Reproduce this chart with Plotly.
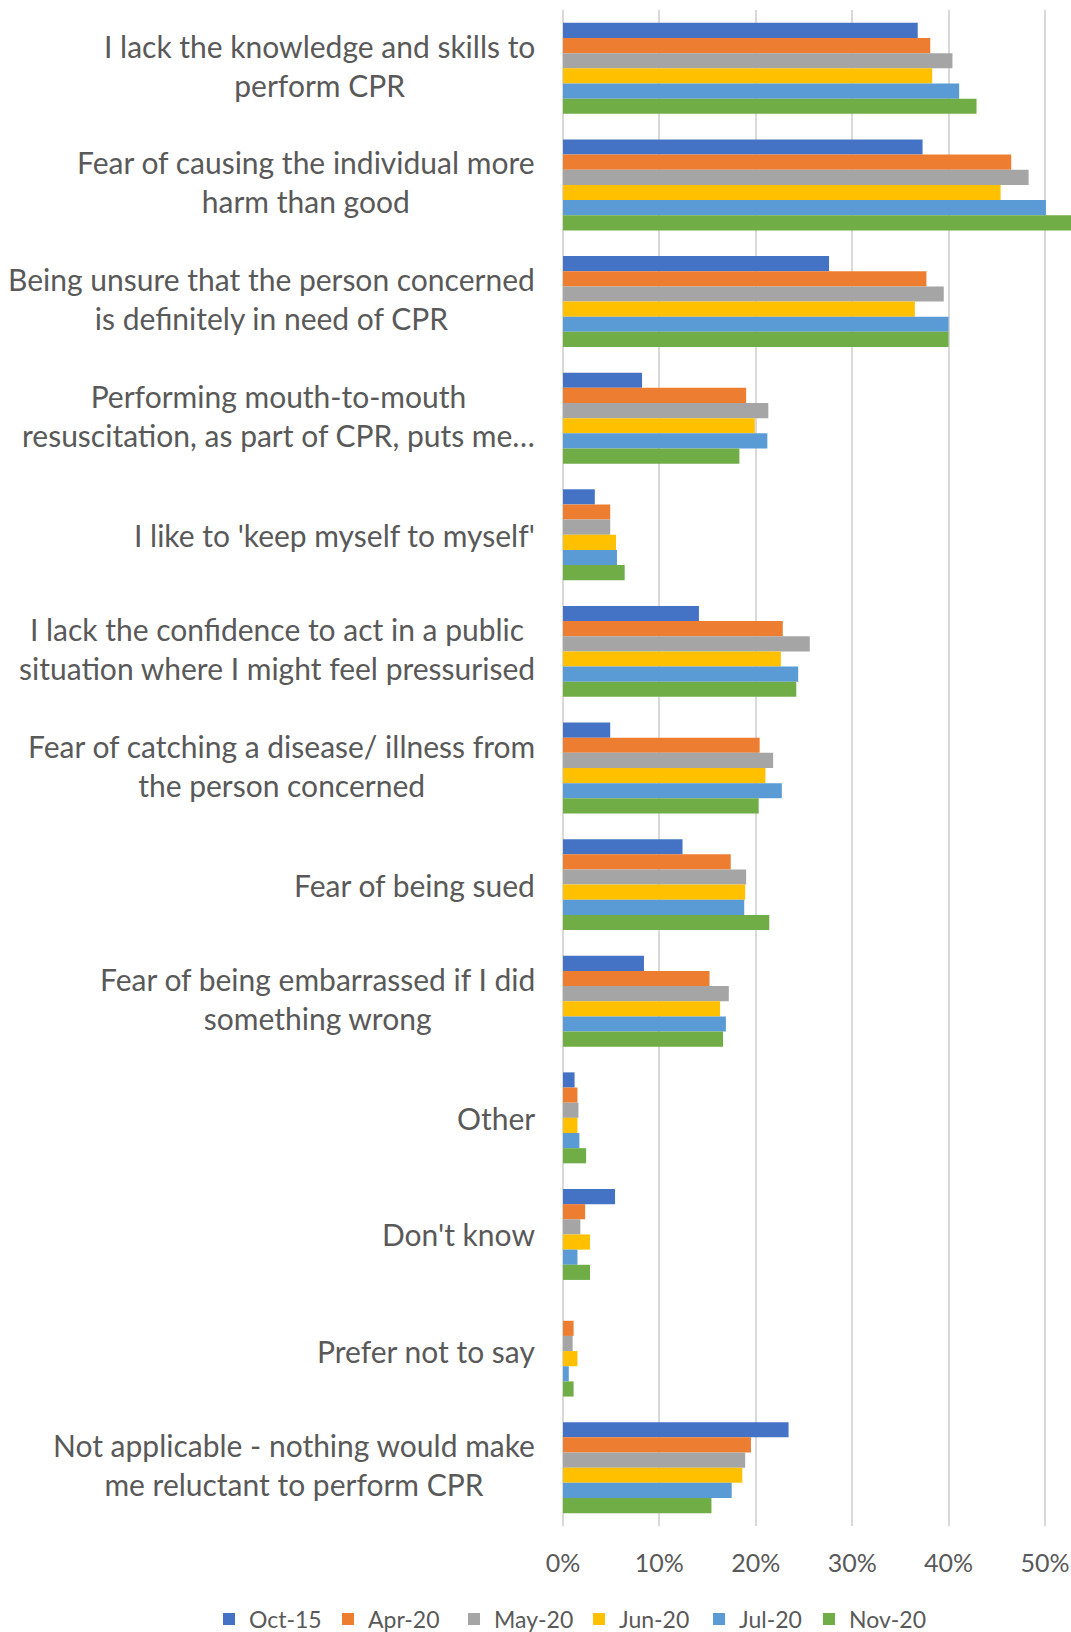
import plotly.graph_objects as go

categories = [
    "I lack the knowledge and skills to<br>perform CPR",
    "Fear of causing the individual more<br>harm than good",
    "Being unsure that the person concerned<br>is definitely in need of CPR",
    "Performing mouth-to-mouth<br>resuscitation, as part of CPR, puts me…",
    "I like to 'keep myself to myself'",
    "I lack the confidence to act in a public<br>situation where I might feel pressurised",
    "Fear of catching a disease/ illness from<br>the person concerned",
    "Fear of being sued",
    "Fear of being embarrassed if I did<br>something wrong",
    "Other",
    "Don't know",
    "Prefer not to say",
    "Not applicable - nothing would make<br>me reluctant to perform CPR",
]

oct_15 = [36.8, 37.3, 27.6, 8.2, 3.3, 14.1, 4.9, 12.4, 8.4, 1.2, 5.4, 0.0, 23.4]
apr_20 = [38.1, 46.5, 37.7, 19.0, 4.9, 22.8, 20.4, 17.4, 15.2, 1.5, 2.3, 1.1, 19.5]
may_20 = [40.4, 48.3, 39.5, 21.3, 4.9, 25.6, 21.8, 19.0, 17.2, 1.6, 1.8, 1.0, 18.9]
jun_20 = [38.3, 45.4, 36.5, 19.9, 5.5, 22.6, 21.0, 18.9, 16.3, 1.5, 2.8, 1.5, 18.6]
jul_20 = [41.1, 50.1, 40.0, 21.2, 5.6, 24.4, 22.7, 18.8, 16.9, 1.7, 1.5, 0.6, 17.5]
nov_20 = [42.9, 53.0, 40.0, 18.3, 6.4, 24.2, 20.3, 21.4, 16.6, 2.4, 2.8, 1.1, 15.4]

series_names = ["Oct-15", "Apr-20", "May-20", "Jun-20", "Jul-20", "Nov-20"]
series_values = [oct_15, apr_20, may_20, jun_20, jul_20, nov_20]
colors = ["#4472C4", "#ED7D31", "#A5A5A5", "#FFC000", "#5B9BD5", "#70AD47"]

tick_vals = [0, 0.1, 0.2, 0.3, 0.4, 0.5]
tick_text = ["0%", "10%", "20%", "30%", "40%", "50%"]

FONT = "Lato"
GREY = "#595959"
W, H = 1071, 1632

# left edge (px) of each legend entry's text in the reference
legend_text_x = [246, 365, 491, 616, 736, 846]

fig = go.Figure()
legend_layouts = {}
for i, (name, vals, col) in enumerate(zip(series_names, series_values, colors)):
    lg = "legend" if i == 0 else f"legend{i + 1}"
    fig.add_trace(go.Bar(
        name=name,
        y=categories,
        x=[v / 100 for v in vals],
        orientation="h",
        marker=dict(color=col, line=dict(width=0)),
        legend=lg,
    ))
    legend_layouts[lg] = dict(
        orientation="h",
        xref="container", yref="container",
        x=(legend_text_x[i] - 37) / W, xanchor="left",
        y=1 - 1619 / H, yanchor="middle",
        font=dict(family=FONT, size=23, color=GREY),
        itemwidth=30,
        bgcolor="rgba(0,0,0,0)",
    )

for cat in categories:
    fig.add_annotation(
        x=0, xref="paper", xanchor="right", xshift=-26,
        y=cat, yref="y", yanchor="middle",
        yshift=3 if "<br>" in cat else 0,
        text=cat, showarrow=False, align="center",
        font=dict(family=FONT, size=30, color=GREY),
    )

fig.update_layout(
    width=W, height=H,
    margin=dict(l=563, r=0, t=10, b=106, autoexpand=False),
    paper_bgcolor="white", plot_bgcolor="white",
    barmode="group", bargap=0.22, bargroupgap=0,
    font=dict(family=FONT, color=GREY),
    showlegend=True,
    xaxis=dict(
        range=[0, 0.527],
        tickvals=tick_vals, ticktext=tick_text,
        showgrid=True, gridcolor="#D9D9D9", gridwidth=2,
        zeroline=True, zerolinecolor="#D9D9D9", zerolinewidth=2,
        showline=False, ticks="",
        ticklabelstandoff=20,
        tickfont=dict(family=FONT, size=25, color=GREY),
    ),
    yaxis=dict(
        autorange="reversed",
        showticklabels=False, showgrid=False, zeroline=False, ticks="",
    ),
    **legend_layouts,
)

fig.write_html(
    "out.html",
    config={"displayModeBar": False},
    post_script="document.body.style.margin='0px';document.body.style.overflow='hidden';",
)
